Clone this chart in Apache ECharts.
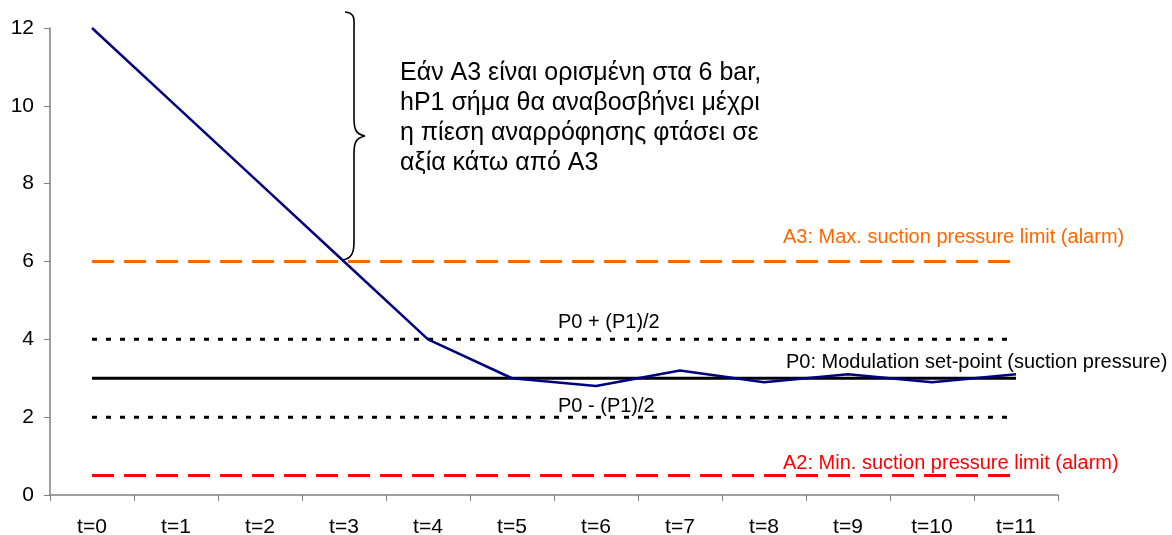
<!DOCTYPE html>
<html>
<head>
<meta charset="utf-8">
<script src="https://cdn.jsdelivr.net/npm/echarts@6/dist/echarts.min.js"></script>
<style>
  html, body { margin: 0; padding: 0; background: #fff; }
  #chart { width: 1172px; height: 535px; }
</style>
</head>
<body>
<div id="chart"></div>
<script>
// categories and values
const categories = ['t=0', 't=1', 't=2', 't=3', 't=4', 't=5', 't=6', 't=7', 't=8', 't=9', 't=10', 't=11']
const suction = [12, 10, 8, 6, 4, 3, 2.8, 3.2, 2.9, 3.1, 2.9, 3.1]
const a3Max = [6, 6, 6, 6, 6, 6, 6, 6, 6, 6, 6, 6]
const p0Plus = [4, 4, 4, 4, 4, 4, 4, 4, 4, 4, 4, 4]
const p0 = [3, 3, 3, 3, 3, 3, 3, 3, 3, 3, 3, 3]
const p0Minus = [2, 2, 2, 2, 2, 2, 2, 2, 2, 2, 2, 2]
const a2Min = [0.5, 0.5, 0.5, 0.5, 0.5, 0.5, 0.5, 0.5, 0.5, 0.5, 0.5, 0.5]
const yTicks = [0, 2, 4, 6, 8, 10, 12]

const font = 'Liberation Sans, Arial, sans-serif'
const chart = echarts.init(document.getElementById('chart'))

function flat(name, data, color, type) {
  return {
    name,
    type: 'line',
    data,
    symbol: 'none',
    silent: true,
    lineStyle: { color, width: 3, type },
    z: 2
  }
}

// curly brace next to the annotation
const braceStyle = { fill: null, stroke: '#000', lineWidth: 1.6 }
function curve(x1, y1, cx1, cy1, cx2, cy2, x2, y2) {
  return { type: 'bezierCurve', shape: { x1, y1, cpx1: cx1, cpy1: cy1, cpx2: cx2, cpy2: cy2, x2, y2 }, style: braceStyle }
}
function seg(x1, y1, x2, y2) {
  return { type: 'line', shape: { x1, y1, x2, y2 }, style: braceStyle }
}

chart.setOption({
  animation: false,
  grid: { left: 50, right: 114, top: 28, bottom: 40, outerBoundsMode: 'none', containLabel: false },
  xAxis: {
    type: 'category',
    data: categories,
    boundaryGap: true,
    axisLine: { lineStyle: { color: '#808080', width: 1.5 } },
    axisTick: { show: true, length: 6, lineStyle: { color: '#808080' } },
    axisLabel: { color: '#000', fontSize: 21, fontFamily: font, margin: 22 }
  },
  yAxis: {
    type: 'value',
    min: 0,
    max: 12,
    interval: 2,
    axisLine: { show: true, lineStyle: { color: '#808080', width: 1.5 } },
    axisTick: { show: true, length: 6, lineStyle: { color: '#808080' } },
    splitLine: { show: false },
    axisLabel: {
      color: '#000', fontSize: 21, fontFamily: font, margin: 16,
      formatter: v => (yTicks.includes(v) ? String(v) : '')
    }
  },
  series: [
    flat('A3', a3Max, '#FF6600', [22, 10]),
    flat('P0+', p0Plus, '#000', [5, 9]),
    flat('P0', p0, '#000', 'solid'),
    flat('P0-', p0Minus, '#000', [5, 9]),
    flat('A2', a2Min, '#FF0000', [22, 10]),
    {
      name: 'suction',
      type: 'line',
      data: suction,
      symbol: 'none',
      lineStyle: { color: '#000080', width: 2.5 },
      z: 3
    }
  ],
  graphic: [
    curve(345, 12, 356, 13, 354, 20, 354, 30),
    seg(354, 30, 354, 118),
    curve(354, 118, 354, 130, 356, 134, 365, 136),
    curve(365, 136, 356, 138, 354, 142, 354, 154),
    seg(354, 154, 354, 242),
    curve(354, 242, 354, 252, 352, 259, 342, 260),
    {
      type: 'text',
      left: 400,
      top: 58,
      style: {
        text: 'Εάν A3 είναι ορισμένη στα 6 bar,\nhP1 σήμα θα αναβοσβήνει μέχρι\nη πίεση αναρρόφησης φτάσει σε\nαξία κάτω από A3',
        font: '25px ' + font,
        lineHeight: 30,
        fill: '#000'
      }
    },
    { type: 'text', left: 783, top: 227, style: { text: 'A3: Max. suction pressure limit (alarm)', font: '20px ' + font, fill: '#FF6600' } },
    { type: 'text', left: 558, top: 312, style: { text: 'P0 + (P1)/2', font: '20px ' + font, fill: '#000' } },
    { type: 'text', left: 786, top: 352, style: { text: 'P0: Modulation set-point (suction pressure)', font: '20px ' + font, fill: '#000' } },
    { type: 'text', left: 558, top: 396, style: { text: 'P0 - (P1)/2', font: '20px ' + font, fill: '#000' } },
    { type: 'text', left: 783, top: 453, style: { text: 'A2: Min. suction pressure limit (alarm)', font: '20px ' + font, fill: '#FF0000' } }
  ]
})
</script>
</body>
</html>
